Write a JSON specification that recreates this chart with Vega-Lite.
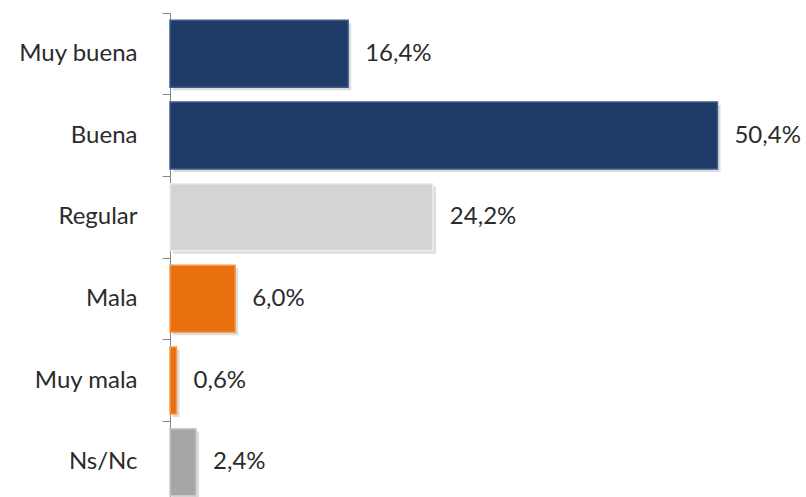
{
  "$schema": "https://vega.github.io/schema/vega-lite/v6.json",
  "width": 630,
  "height": 484,
  "autosize": "none",
  "padding": {"left": 170, "top": 13, "right": 6, "bottom": 0},
  "background": "white",
  "config": {
    "view": {"stroke": null},
    "font": "Lato",
    "locale": {"number": {"decimal": ",", "thousands": ".", "grouping": [3], "currency": ["", " €"]}}
  },
  "data": {
    "values": [
      {"cat": "Muy buena", "v": 0.164},
      {"cat": "Buena", "v": 0.504},
      {"cat": "Regular", "v": 0.242},
      {"cat": "Mala", "v": 0.060},
      {"cat": "Muy mala", "v": 0.006},
      {"cat": "Ns/Nc", "v": 0.024}
    ]
  },
  "encoding": {
    "y": {
      "field": "cat",
      "type": "nominal",
      "sort": null,
      "title": null,
      "scale": {"range": [0, 490], "paddingInner": 0, "paddingOuter": 0},
      "axis": {
        "bandPosition": 0,
        "domainColor": "#888888",
        "domainWidth": 1,
        "tickColor": "#888888",
        "tickSize": 8,
        "labelPadding": 25,
        "labelFontSize": 24,
        "labelColor": "#2b2b2b",
        "labelFont": "Lato",
        "labelAlign": "right",
        "labelBaseline": "middle"
      }
    },
    "x": {
      "field": "v",
      "type": "quantitative",
      "title": null,
      "scale": {"domain": [0, 0.58], "nice": false},
      "axis": null
    }
  },
  "layer": [
    {
      "mark": {"type": "bar", "height": {"band": 0.82}, "xOffset": 3, "yOffset": 3, "color": "#9a9a9a", "opacity": 0.35}
    },
    {
      "mark": {"type": "bar", "height": {"band": 0.82}, "strokeWidth": 1.5},
      "encoding": {
        "color": {
          "field": "cat",
          "type": "nominal",
          "legend": null,
          "scale": {
            "domain": ["Muy buena", "Buena", "Regular", "Mala", "Muy mala", "Ns/Nc"],
            "range": ["#1F3B67", "#1F3B67", "#D4D4D4", "#E8700E", "#E8700E", "#A6A6A6"]
          }
        },
        "stroke": {
          "field": "cat",
          "type": "nominal",
          "legend": null,
          "scale": {
            "domain": ["Muy buena", "Buena", "Regular", "Mala", "Muy mala", "Ns/Nc"],
            "range": ["#3D5C8C", "#3D5C8C", "#EDEDED", "#F59A4E", "#F59A4E", "#C8C8C8"]
          }
        }
      }
    },
    {
      "mark": {"type": "text", "align": "left", "baseline": "middle", "dx": 17, "fontSize": 24, "color": "#2b2b2b", "font": "Lato"},
      "encoding": {
        "text": {"field": "v", "type": "quantitative", "format": ".1%"}
      }
    }
  ]
}
